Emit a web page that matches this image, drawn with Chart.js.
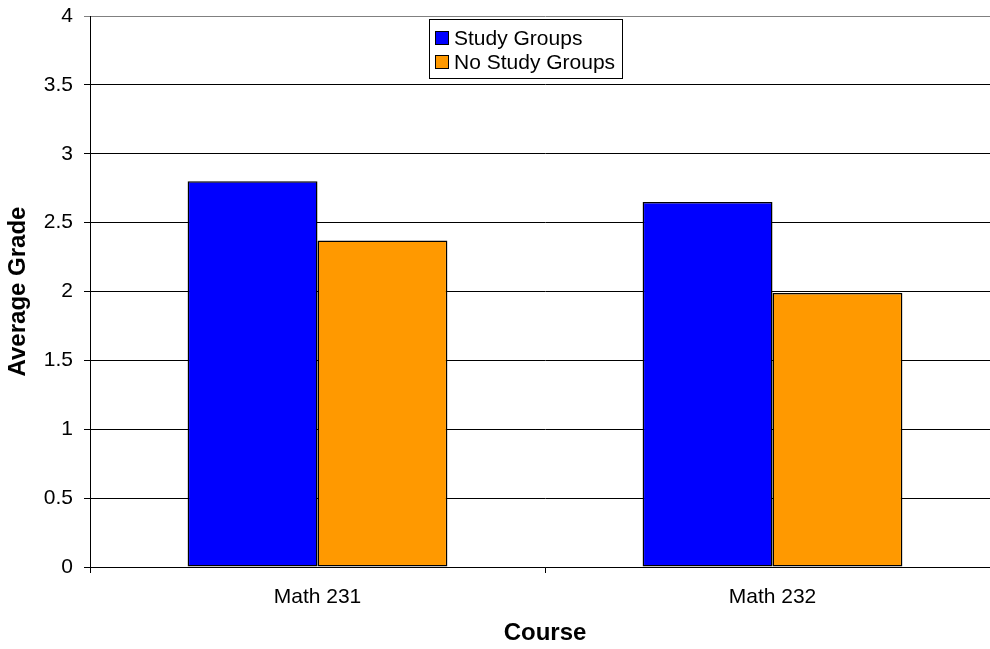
<!DOCTYPE html>
<html>
<head>
<meta charset="utf-8">
<script src="https://cdn.jsdelivr.net/npm/chart.js@4/dist/chart.umd.min.js"></script>
<style>
  html, body { margin: 0; padding: 0; background: #fff; overflow: hidden; }
  #wrap { width: 1000px; height: 649px; }
</style>
</head>
<body>
<div id="wrap"><canvas id="gradeChart" width="1000" height="649"></canvas></div>
<script>
  const courses = ['Math 231', 'Math 232'];
  const studyGroups = [2.80, 2.65];
  const noStudyGroups = [2.37, 1.99];
  const seriesNames = ['Study Groups', 'No Study Groups'];

  Chart.defaults.font.family = "'Liberation Sans', Arial, sans-serif";
  Chart.defaults.color = '#000';

  // legend box drawn by hand (stacked items with a frame)
  const boxLegend = {
    id: 'boxLegend',
    afterDraw(chart) {
      const ctx = chart.ctx;
      ctx.save();
      ctx.fillStyle = '#fff';
      ctx.fillRect(429.5, 19.5, 193, 59);
      ctx.strokeStyle = '#000';
      ctx.lineWidth = 1;
      ctx.strokeRect(429.5, 19.5, 193, 59);
      ctx.font = "21px 'Liberation Sans', Arial, sans-serif";
      ctx.textBaseline = 'middle';
      chart.data.datasets.forEach((ds, i) => {
        const cy = 38 + i * 24;
        ctx.fillStyle = ds.backgroundColor;
        ctx.fillRect(435.5, cy - 6.5, 13, 13);
        ctx.strokeRect(435.5, cy - 6.5, 13, 13);
        ctx.fillStyle = '#000';
        ctx.fillText(ds.label, 454, cy + 1);
      });
      ctx.restore();
    }
  };

  new Chart(document.getElementById('gradeChart'), {
    type: 'bar',
    data: {
      labels: courses,
      datasets: [
        {
          label: seriesNames[0],
          data: studyGroups,
          backgroundColor: '#0000ff',
          borderColor: '#000',
          borderWidth: 1.5,
          borderSkipped: false
        },
        {
          label: seriesNames[1],
          data: noStudyGroups,
          backgroundColor: '#ff9900',
          borderColor: '#000',
          borderWidth: 1.5,
          borderSkipped: false
        }
      ]
    },
    options: {
      responsive: false,
      animation: false,
      layout: { padding: { top: 16, right: 0, left: 0, bottom: 0 } },
      datasets: {
        bar: { barPercentage: 1, categoryPercentage: 0.571 }
      },
      plugins: {
        legend: { display: false },
        tooltip: { enabled: false }
      },
      scales: {
        x: {
          afterFit: (s) => { s.height = 82; s.paddingLeft = 0; s.paddingRight = 0; },
          grid: {
            offset: true,
            drawOnChartArea: false,
            drawTicks: true,
            tickLength: 6,
            color: '#000'
          },
          border: { color: '#000', width: 1 },
          ticks: {
            font: { size: 21 },
            padding: 12,
            color: '#000'
          },
          title: {
            display: true,
            text: 'Course',
            font: { size: 24, weight: 'bold' },
            padding: { top: 0, bottom: 1 },
            color: '#000'
          }
        },
        y: {
          min: 0,
          max: 4,
          afterFit: (s) => { s.width = 90; s.paddingTop = 0; s.paddingBottom = 0; },
          grid: {
            color: (c) => (c.tick && c.tick.value === 4 ? '#808080' : '#000'),
            tickLength: 6,
            drawTicks: true
          },
          border: { color: '#000', width: 1 },
          ticks: {
            stepSize: 0.5,
            font: { size: 21 },
            padding: 11,
            color: '#000',
            callback: (v) => String(v)
          },
          title: {
            display: true,
            text: 'Average Grade',
            font: { size: 24, weight: 'bold' },
            padding: { top: 4, bottom: 0 },
            color: '#000'
          }
        }
      }
    },
    plugins: [boxLegend]
  });
</script>
</body>
</html>
